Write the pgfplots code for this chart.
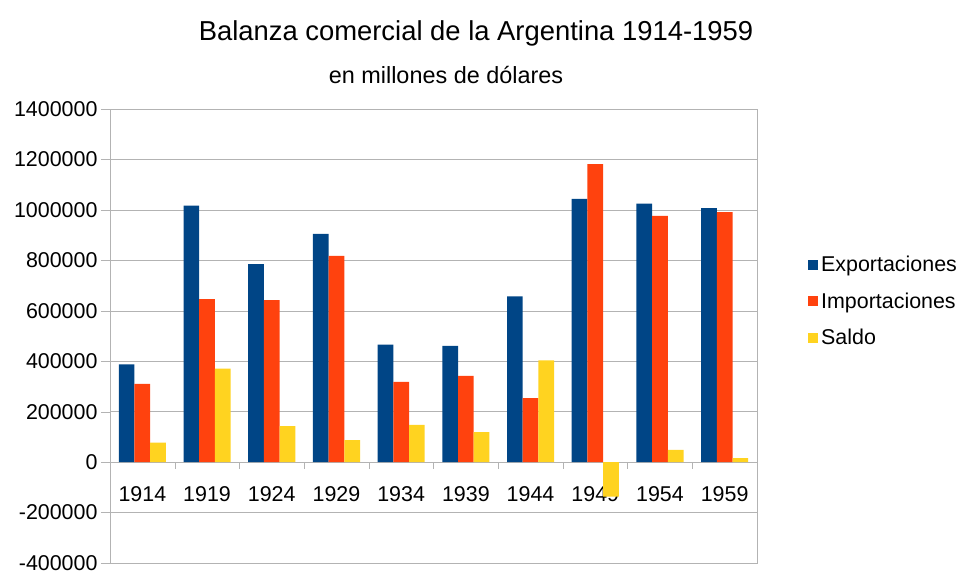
\documentclass[border=0pt]{standalone}
\usepackage{fontspec}
\setmainfont{Liberation Sans}
\usepackage{pgfplots}
\pgfplotsset{compat=1.18}
\definecolor{cexp}{HTML}{004586}
\definecolor{cimp}{HTML}{FF420E}
\definecolor{csal}{HTML}{FFD320}
\definecolor{gridgray}{HTML}{B3B3B3}
\begin{document}
\begin{tikzpicture}
\useasboundingbox (-110bp,-11bp) rectangle (858bp,563bp);
\node[font=\fontsize{27.5}{32}\selectfont] at (366bp,530bp) {Balanza comercial de la Argentina 1914-1959};
\node[font=\fontsize{23.5}{28}\selectfont] at (336bp,488bp) {en millones de dólares};
\begin{axis}[
  at={(0,0)}, anchor=south west,
  scale only axis, width=647bp, height=454bp,
  xmin=-0.5, xmax=9.5, ymin=-400000, ymax=1400000,
  ytick={-400000,-200000,0,200000,400000,600000,800000,1000000,1200000,1400000},
  scaled y ticks=false,
  /pgf/number format/assume math mode=true,
  yticklabel style={/pgf/number format/.cd, fixed, 1000 sep={}},
  ticklabel style={font=\fontsize{21.5}{25}\selectfont},
  xtick={0,1,2,3,4,5,6,7,8,9},
  xticklabels={1914,1919,1924,1929,1934,1939,1944,1949,1954,1959},
  xtick style={draw=none},
  xticklabel style={yshift=89bp},
  ytick pos=left,
  tick align=outside,
  major tick length=9bp,
  ytick style={gridgray},
  ymajorgrids, grid style={gridgray},
  axis line style={gridgray},
  ybar=0pt, bar width=15.7bp,
  legend style={at={(1.078,0.68)}, anchor=north west, draw=none, fill=none,
    font=\fontsize{21.5}{25}\selectfont, row sep=15.5bp, cells={anchor=west},
    inner sep=0pt, nodes={inner xsep=3.5bp}},
  legend image code/.code={\fill[#1] (0bp,-5bp) rectangle (10bp,5bp);},
]
\addplot[fill=cexp, draw=none] coordinates {(0,387000) (1,1017000) (2,785000) (3,905000) (4,466000) (5,461000) (6,657000) (7,1044000) (8,1025000) (9,1007000)};
\addplot[fill=cimp, draw=none] coordinates {(0,310000) (1,646000) (2,642000) (3,818000) (4,318000) (5,342000) (6,254000) (7,1181000) (8,976000) (9,991000)};
\addplot[fill=csal, draw=none] coordinates {(0,77000) (1,371000) (2,143000) (3,87000) (4,148000) (5,119000) (6,403000) (7,-137000) (8,49000) (9,16000)};
\legend{Exportaciones,Importaciones,Saldo}
\pgfplotsinvokeforeach{0.5,1.5,2.5,3.5,4.5,5.5,6.5,7.5,8.5}{\draw[gridgray] (axis cs:#1,0) -- ++(0bp,-7bp);}
\end{axis}
\end{tikzpicture}
\end{document}
